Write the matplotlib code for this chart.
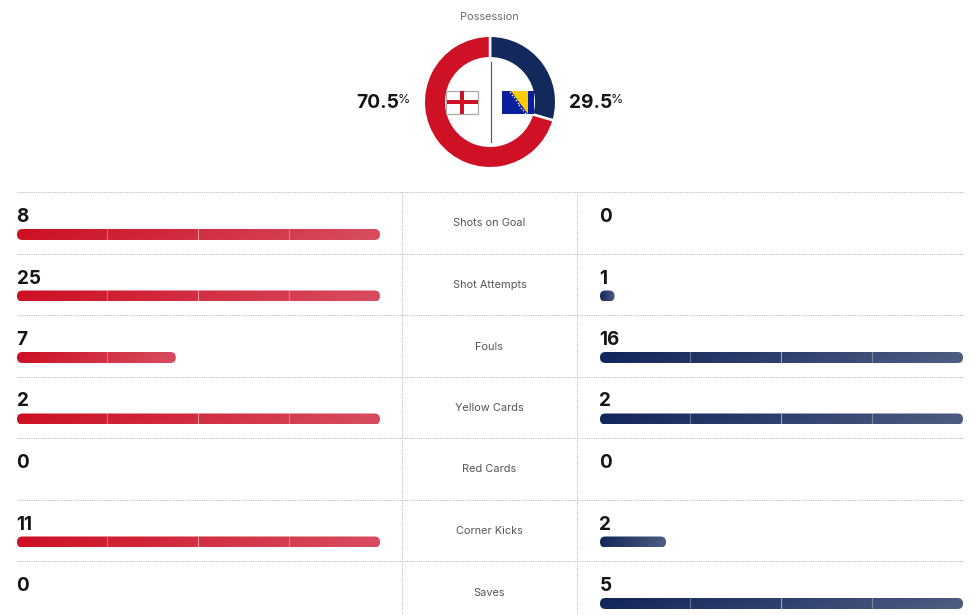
import numpy as np
import matplotlib
matplotlib.use("Agg")
import matplotlib.pyplot as plt
from matplotlib.patches import FancyBboxPatch, Rectangle, Polygon

stats = ["Shots on Goal", "Shot Attempts", "Fouls", "Yellow Cards", "Red Cards", "Corner Kicks", "Saves"]
england = [8, 25, 7, 2, 0, 11, 0]
bosnia = [0, 1, 16, 2, 0, 2, 5]
possession_labels = ["England", "Bosnia and Herzegovina"]
possession = [70.5, 29.5]

W, H = 978, 615
FONT = ["Inter", "DejaVu Sans"]
RED0, RED1 = np.array([0xcd, 0x10, 0x24]), np.array([0xd8, 0x4c, 0x60])
BLUE0, BLUE1 = np.array([0x13, 0x26, 0x5a]), np.array([0x4e, 0x5b, 0x82])
BLUE, RED = "#13295b", "#cf1126"

fig = plt.figure(figsize=(W / 100, H / 100), dpi=100, facecolor="white")
ax = fig.add_axes([0, 0, 1, 1])
ax.set_xlim(0, W)
ax.set_ylim(H, 0)
ax.axis("off")

ROW = 61.5
TOP = 192
BAR_W = 363
BAR_H = 11


def bar(x0, y0, width, c0, c1):
    t = np.linspace(0, 1, 200)[None, :] + np.linspace(-0.03, 0.03, 12)[:, None]
    t = np.clip(t, 0, 1)[..., None]
    img = ((1 - t) * c0 + t * c1) / 255
    im = ax.imshow(img, extent=(x0, x0 + width, y0 + BAR_H, y0), aspect="auto", zorder=2, interpolation="bilinear")
    clip = FancyBboxPatch((x0, y0), width, BAR_H, boxstyle="round,pad=0,rounding_size=5.4",
                          facecolor="none", edgecolor="none", transform=ax.transData)
    ax.add_patch(clip)
    im.set_clip_path(clip)
    for frac, alpha in [(0.25, 0.3), (0.5, 0.5), (0.75, 0.3)]:
        xs = x0 + BAR_W * frac - 0.4
        if xs < x0 + width:
            ax.plot([xs, xs], [y0, y0 + BAR_H], color="white", lw=0.8, alpha=alpha, zorder=3)


dot = dict(color="#b0b0b0", lw=0.7, linestyle=(0, (1, 1.4)), zorder=1)
for i in range(len(stats)):
    y = TOP + i * ROW
    ax.plot([17, 963], [y, y], **dot)
    for value, x0, c0, c1, other in [(england[i], 17, RED0, RED1, bosnia[i]),
                                     (bosnia[i], 600, BLUE0, BLUE1, england[i])]:
        ax.text(x0 - 0.5, y + 30, str(value), fontsize=13.6, fontweight="bold", color="#151515",
                family=FONT, ha="left", va="baseline")
        if value > 0:
            bar(x0, y + 37, BAR_W * value / max(value, other), c0, c1)
    ax.text(489.5, y + 31.5, stats[i], fontsize=7.9, color="#555555", family=FONT, ha="center", va="center")
for x in (402, 577):
    ax.plot([x, x], [TOP, H], **dot)

ax.text(489.5, 16.5, "Possession", fontsize=7.9, color="#6e6e6e", family=FONT, ha="center", va="center")

# Possession donut
cx, cy, R = 490, 102, 66.25
dax = fig.add_axes([(cx - R) / W, 1 - (cy + R) / H, 2 * R / W, 2 * R / H])
dax.pie(possession[::-1], colors=[BLUE, RED], startangle=90, counterclock=False, radius=1,
        wedgeprops=dict(width=22.5 / R, edgecolor="white", linewidth=1.8))
dax.set_xlim(-1, 1)
dax.set_ylim(-1, 1)
dax.set_aspect("equal")
dax.patch.set_alpha(0)

ax2 = fig.add_axes([0, 0, 1, 1], zorder=5)
ax2.set_xlim(0, W)
ax2.set_ylim(H, 0)
ax2.axis("off")
ax2.patch.set_alpha(0)
ax2.plot([490.5, 490.5], [62, 142], color="#555555", lw=0.8)

# England flag
ax2.add_patch(Rectangle((446, 90.5), 32, 23.5, facecolor="white", edgecolor="#aaaaaa", lw=0.9))
ax2.add_patch(Rectangle((460, 91), 4, 22.5, facecolor=RED, edgecolor="none"))
ax2.add_patch(Rectangle((446.5, 100), 31, 4.3, facecolor=RED, edgecolor="none"))

# Bosnia flag
ax2.add_patch(Rectangle((502, 91), 32, 22.5, facecolor="#0a1f9c", edgecolor="none"))
ax2.add_patch(Polygon([(511, 91), (528, 91), (528, 113.5)], facecolor="#fecb00", edgecolor="none"))
ax2.scatter(np.linspace(510, 525, 9), np.linspace(92, 113, 9), s=1.3, color="white", linewidths=0)

# Possession values
ax2.text(356, 108.5, f"{possession[0]}", fontsize=13.8, fontweight="bold", color="#151515", family=FONT, ha="left", va="baseline")
ax2.text(398, 103, "%", fontsize=9, color="#151515", family=FONT, ha="left", va="baseline")
ax2.text(568.5, 108.5, f"{possession[1]}", fontsize=13.8, fontweight="bold", color="#151515", family=FONT, ha="left", va="baseline")
ax2.text(611, 103, "%", fontsize=9, color="#151515", family=FONT, ha="left", va="baseline")

fig.savefig("out.png", dpi=100, facecolor="white")
